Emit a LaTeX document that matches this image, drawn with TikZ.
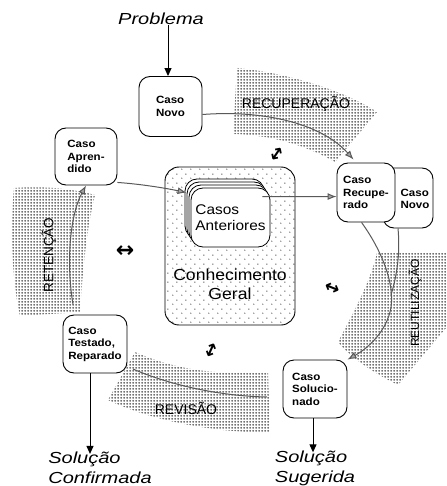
\documentclass[tikz,border=0pt]{standalone}
\usepackage{fontspec}
\setmainfont{Liberation Sans}
\newfontfamily\labfont{Liberation Sans}[FakeStretch=1.25]
\newfontfamily\boxfont{Liberation Sans}[FakeStretch=1.1]
\newfontfamily\symfont{DejaVu Sans}
\usetikzlibrary{arrows.meta,patterns.meta,calc}

\tikzdeclarepattern{name=ringdots, type=uncolored,
  bounding box={(0pt,0pt) and (3pt,3pt)}, tile size={(3pt,3pt)},
  code={\draw[line width=0.45pt] (1.5pt,1.5pt) circle (0.85pt);}}
\tikzdeclarepattern{name=sparsedots, type=uncolored,
  bounding box={(0pt,0pt) and (9pt,9pt)}, tile size={(9pt,9pt)},
  code={\fill (2pt,2pt) circle (0.6pt); \fill (6.5pt,6.5pt) circle (0.6pt);}}

\begin{document}
\begin{tikzpicture}[x=1pt,y=-1pt,
  cbox/.style={draw, line width=0.9pt, rounded corners=11pt, fill=white, align=left, inner sep=0pt,
    font=\boxfont\bfseries\fontsize{10.5}{12.5}\selectfont},
  band/.style={pattern=ringdots, pattern color=black!85},
  flow/.style={draw=black!65, line width=1pt},
  garrow/.style={flow, -{Latex[length=9pt,width=7pt,fill=black!35]}},
  barrow/.style={line width=1pt, -{Triangle[length=8pt,width=7pt]}},
  bigtxt/.style={font=\labfont\itshape\fontsize{16}{20}\selectfont, align=left, inner sep=0pt},
  phase/.style={inner sep=0pt},
  dbl/.style={font=\symfont\bfseries\fontsize{18}{18}\selectfont, inner sep=0pt},
  stack/.style={draw, line width=0.8pt, fill=white, rounded corners=12pt, minimum width=79pt, minimum height=59pt, inner sep=0pt}
]
\useasboundingbox (0,0) rectangle (446,486);

% ---- bands ----
\path[band] (237,68) .. controls (280,72) and (340,88) .. (377,112)
  -- (335,162) .. controls (300,142) and (265,135) .. (233,134) -- cycle;
\path[band] (14,188) .. controls (40,186) and (70,188) .. (95,195)
  .. controls (86,230) and (82,280) .. (80,312)
  -- (20,316) .. controls (12,280) and (10,230) .. (14,188) -- cycle;
\path[band] (135,352) .. controls (180,372) and (225,375) .. (268,372)
  -- (270,433) .. controls (210,432) and (150,420) .. (108,400) -- cycle;
\path[band] (377,253) -- (446,253) -- (446,328) -- (398,385)
  .. controls (372,372) and (350,357) .. (338,342)
  .. controls (355,310) and (370,282) .. (377,253) -- cycle;

\node[phase, font=\fontsize{14}{14}\selectfont] (trec) at (296,104) {RECUPERAÇÃO};
\node[phase, font=\fontsize{13.5}{13.5}\selectfont, rotate=90] (tret) at (49,255) {RETENÇÃO};
\node[phase, font=\fontsize{14}{14}\selectfont] (trev) at (186,408) {REVISÃO};
\node[phase, font=\fontsize{12}{12}\selectfont, rotate=90] (treu) at (415,303) {REUTILIZAÇÃO};

% ---- knowledge box ----
\node[draw, line width=0.9pt, rounded corners=14pt, pattern=sparsedots, minimum width=130pt, minimum height=158pt] (cg) at (230,246) {};
\node[font=\boxfont\fontsize{16}{19}\selectfont, align=center, inner sep=0pt] (cgtxt) at (230,284) {Conhecimento\\Geral};

\node[stack] (ca3) at (224.5,208.5) {};
\node[stack] (ca2) at (226.5,211.5) {};
\node[stack] (ca1) at (228.5,214.5) {};
\node[stack, align=left, font=\boxfont\fontsize{14}{16}\selectfont] (ca) at (230.5,217.5) {Casos\\Anteriores};

% ---- case boxes ----
\node[cbox, minimum width=63pt, minimum height=60pt] (novo) at (170.5,106.5) {Caso\\Novo};
\node[cbox, minimum width=62pt, minimum height=57pt] (aprend) at (86,156.5) {Caso\\Apren-\\dido};
\node[cbox, minimum width=50pt, minimum height=60pt] (novo2) at (408,198) {};
\node[font=\boxfont\bfseries\fontsize{10.5}{12.5}\selectfont, align=left, inner sep=0pt] (novo2txt) at (415,199) {Caso\\Novo};
\node[cbox, minimum width=58pt, minimum height=59pt] (recup) at (366,192.5) {Caso\\Recupe-\\rado};
\node[cbox, minimum width=64pt, minimum height=58pt] (testado) at (95,344) {Caso\\Testado,\\Reparado};
\node[cbox, minimum width=64pt, minimum height=58pt] (soluc) at (315,389) {Caso\\Solucio-\\nado};

% ---- texts ----
\node[bigtxt] (prob) at (161,19) {Problema};
\node[bigtxt] (solconf) at (100,468) {Solução\\Confirmada};
\node[bigtxt] (solsug) at (315,468) {Solução\\Sugerida};

% ---- connectors ----
\coordinate (pa) at (168,0);
\draw[barrow] (prob.south -| pa) -- (novo.north -| pa);
\coordinate (ta) at ($(testado.south)+(-5,0)$);
\draw[barrow] (ta) -- ([yshift=-2pt]ta |- solconf.north);
\coordinate (sa) at ($(soluc.south)+(-2,0)$);
\draw[barrow] (sa) -- ([yshift=-2pt]sa |- solsug.north);

\draw[garrow] ($(novo.east)+(0,8)$) .. controls (260,110) and (320,122) .. ($(recup.north west)+(17,-3)$);
\draw[garrow] ($(aprend.south east)+(0,-3)$) .. controls (140,184) and (165,188) .. ($(ca3.north west)+(2,14)$);
\draw[garrow] ($(ca.north east)+(-8,9)$) -- ($(recup.north west)+(0,34)$);
\coordinate (merge) at (391,295);
\draw[flow] ($(novo2.south)+(-10,0)$) .. controls (400,250) and (398,272) .. (merge);
\draw[garrow] ($(recup.south west)+(25,0)$) .. controls (385,255) and (396,290) .. (390,312)
  .. controls (384,335) and (365,350) .. (soluc.north east);
\draw[garrow] ($(testado.north)+(-22,-10)$) .. controls (66,262) and (70,215) .. (aprend.south);
\coordinate (rev1) at (133,369);
\coordinate (rev2) at (267,397);
\draw[flow] (rev1) .. controls (165,383) and (215,396) .. (rev2);

% ---- small double arrows ----
\node[dbl, rotate=56] (d1) at (278,155) {↔};
\node[dbl, font=\symfont\bfseries\fontsize{22}{22}\selectfont] (d2) at (125,252) {↔};
\node[dbl, rotate=-22] (d3) at (332,289) {↔};
\node[dbl, rotate=66] (d4) at (212,351) {↔};
\end{tikzpicture}
\end{document}
